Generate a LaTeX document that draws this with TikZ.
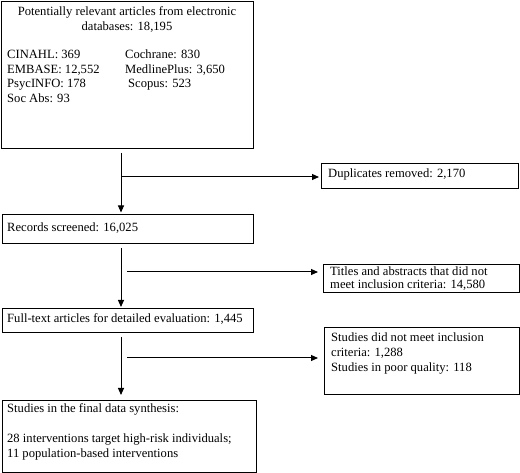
\documentclass[tikz,border=0pt]{standalone}
\usepackage{fontspec}
\setmainfont{Liberation Serif}
\usetikzlibrary{arrows.meta,calc}
\begin{document}
\begin{tikzpicture}[x=1pt,y=-1pt,
  box/.style={draw, line width=1.3pt, inner sep=0pt, anchor=north west},
  txt/.style={anchor=base west, inner sep=0pt, font=\fontsize{12.6}{14.5}\selectfont},
  arr/.style={line width=1pt, -{Triangle[length=7pt,width=6pt]}}]
\useasboundingbox (0,0) rectangle (520,473);
% boxes
\node[box, minimum width=252pt, minimum height=147pt] (b1) at (1,1) {};
\node[box, minimum width=251pt, minimum height=29pt] (rec) at (2,214) {};
\node[box, minimum width=251pt, minimum height=24pt] (full) at (2,308) {};
\node[box, minimum width=254pt, minimum height=72pt] (final) at (2,400) {};
\node[box, minimum width=197pt, minimum height=25pt] (dup) at (321,163) {};
\node[box, minimum width=196pt, minimum height=28pt] (tit) at (323,264) {};
\node[box, minimum width=195pt, minimum height=67pt] (stud) at (324,327) {};
% texts
\node[txt, anchor=base] (t1a) at (127,16) {Potentially relevant articles from electronic};
\node[txt, anchor=base] (t1b) at (127,31) {databases: 18,195};
\node[txt] (c1) at (7,59) {CINAHL: 369};
\node[txt] (c2) at (125,59) {Cochrane: 830};
\node[txt] (c3) at (7,74) {EMBASE: 12,552};
\node[txt] (c4) at (125,74) {MedlinePlus: 3,650};
\node[txt] (c5) at (7,88) {PsycINFO: 178};
\node[txt] (c6) at (128,88) {Scopus: 523};
\node[txt] (c7) at (7,103) {Soc Abs: 93};
\node[txt] (trec) at (7,232) {Records screened: 16,025};
\node[txt] (tfull) at (7,323) {Full-text articles for detailed evaluation: 1,445};
\node[txt] (tf1) at (7,413) {Studies in the final data synthesis:};
\node[txt] (tf2) at (7,442) {28 interventions target high-risk individuals;};
\node[txt] (tf3) at (7,457) {11 population-based interventions};
\node[txt] (tdup) at (328,178) {Duplicates removed: 2,170};
\node[txt] (tt1) at (330,276) {Titles and abstracts that did not};
\node[txt] (tt2) at (330,289) {meet inclusion criteria: 14,580};
\node[txt] (ts1) at (331,342) {Studies did not meet inclusion};
\node[txt] (ts2) at (331,356) {criteria: 1,288};
\node[txt] (ts3) at (331,371) {Studies in poor quality: 118};
% connectors
\coordinate (v1) at (121,153);
\coordinate (h1) at (122,177);
\coordinate (v2) at (121,248);
\coordinate (h2) at (127,272);
\coordinate (v3) at (121,337);
\coordinate (h3) at (127,358);
\draw[arr, shorten >=1.5pt] (v1) -- (v1 |- rec.north);
\draw[arr, shorten >=2pt] (h1) -- (h1 -| dup.west);
\draw[arr, shorten >=1pt] (v2) -- (v2 |- full.north);
\draw[arr, shorten >=5pt] (h2) -- (h2 -| tit.west);
\draw[arr, shorten >=5pt] (v3) -- (v3 |- final.north);
\draw[arr, shorten >=6pt] (h3) -- (h3 -| stud.west);
\end{tikzpicture}
\end{document}
